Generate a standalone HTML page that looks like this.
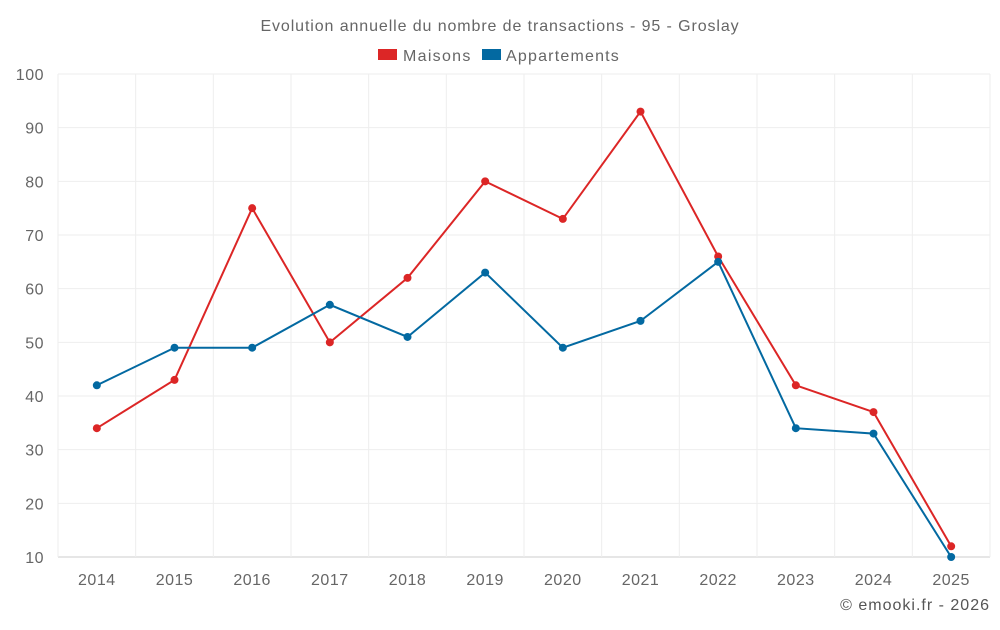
<!DOCTYPE html>
<html><head><meta charset="utf-8"><style>
body{margin:0;background:#fff;font-family:"Liberation Sans",sans-serif;}
svg text{font-family:"Liberation Sans",sans-serif;}
</style></head><body>
<svg id="chart" width="1000" height="625">
<text x="500" y="31" text-anchor="middle" font-size="16" letter-spacing="0.9" fill="#666">Evolution annuelle du nombre de transactions - 95 - Groslay</text>
<g>
<g><rect x="378" y="49" width="19" height="11" fill="#dc2626"/><text x="403" y="61" font-size="16" letter-spacing="1.3" fill="#666">Maisons</text></g>
<g><rect x="482" y="49" width="19" height="11" fill="#0369a1"/><text x="506" y="61" font-size="16" letter-spacing="1.2" fill="#666">Appartements</text></g>
</g>
<g id="grid"></g><g id="axes"></g><g id="series"></g>
<text x="990" y="610" text-anchor="end" font-size="16" letter-spacing="1" fill="#555">© emooki.fr - 2026</text>
</svg>
<script>
const years=["2014","2015","2016","2017","2018","2019","2020","2021","2022","2023","2024","2025"];
const maisons=[34,43,75,50,62,80,73,93,66,42,37,12];
const appartements=[42,49,49,57,51,63,49,54,65,34,33,10];
const yTicks=[10,20,30,40,50,60,70,80,90,100];
const NS="http://www.w3.org/2000/svg";
const L=58,R=990,T=74,B=557,yMin=10,yMax=100;
const band=(R-L)/years.length;
const x=i=>L+band*(i+0.5);
const y=v=>B-(v-yMin)/(yMax-yMin)*(B-T);
function mk(t,a,p){const e=document.createElementNS(NS,t);for(const k in a)e.setAttribute(k,a[k]);p.appendChild(e);return e;}
const grid=document.getElementById('grid'),axes=document.getElementById('axes'),ser=document.getElementById('series');
yTicks.forEach(v=>{
 const l=mk('line',{x1:L,x2:R,y1:y(v),y2:y(v),stroke:v===yMin?'#ccc':'#eee'},grid);
 
 
 const t=mk('text',{x:44,y:y(v)+6,'text-anchor':'end','font-size':16,'letter-spacing':0.5,fill:'#666'},axes);
 t.textContent=v;
 
 
});
for(let i=0;i<=years.length;i++){
 const l=mk('line',{x1:L+band*i,x2:L+band*i,y1:T,y2:B,stroke:'#eee'},grid);
 
 
}
years.forEach((yr,i)=>{
 const t=mk('text',{x:x(i),y:585,'text-anchor':'middle','font-size':16,'letter-spacing':0.5,fill:'#666'},axes);
 t.textContent=yr;
 
 
});
function draw(data,color,name){
 const p=mk('polyline',{points:data.map((v,i)=>x(i)+','+y(v)).join(' '),fill:'none',stroke:color,'stroke-width':2},ser);
 
 
 data.forEach((v,i)=>{
  const c=mk('circle',{cx:x(i),cy:y(v),r:4,fill:color},ser);
  
  
 });
}
draw(maisons,'#dc2626','maisons');
draw(appartements,'#0369a1','appartements');
</script>
</body></html>
